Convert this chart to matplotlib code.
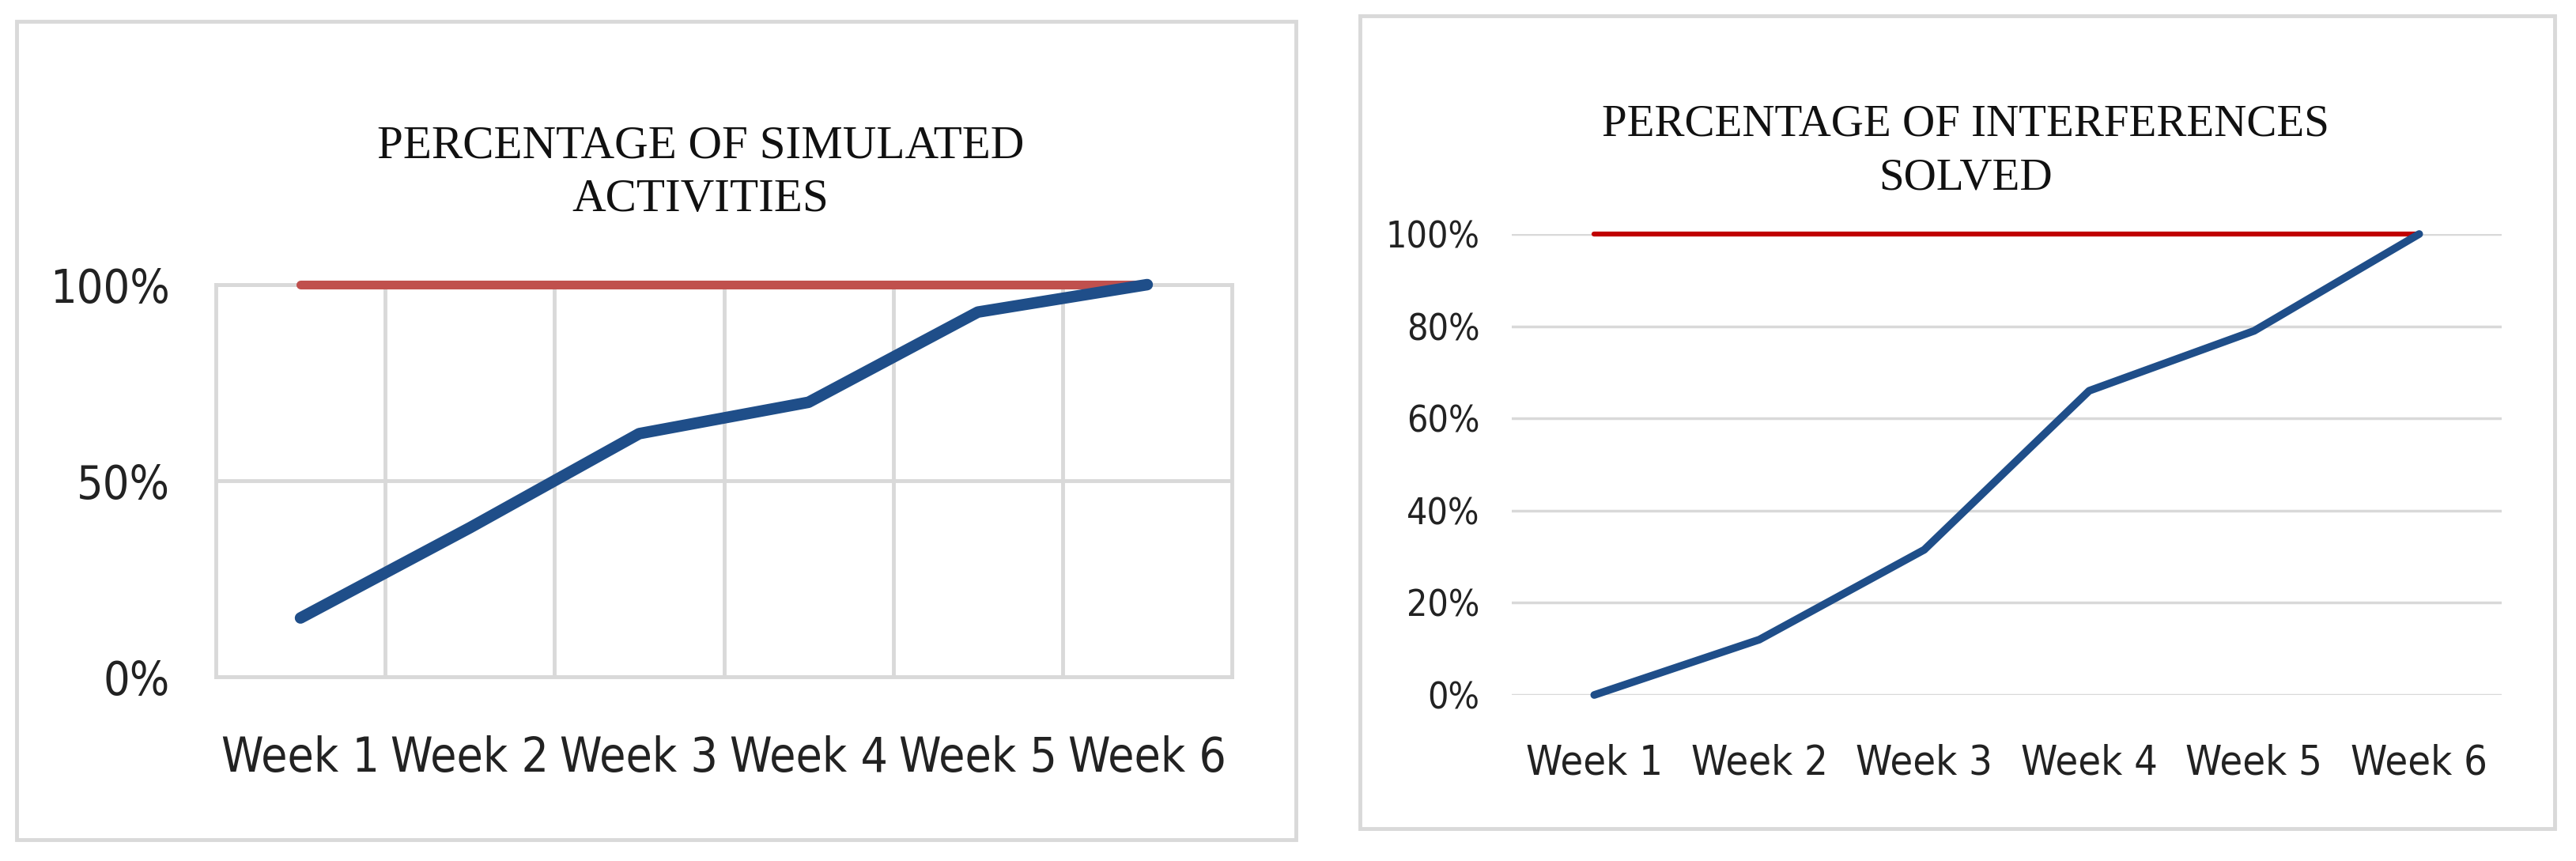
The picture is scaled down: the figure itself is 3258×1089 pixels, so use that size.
import matplotlib
matplotlib.use("Agg")
import matplotlib.pyplot as plt
from matplotlib import font_manager
from matplotlib.font_manager import FontProperties
from matplotlib.patches import Rectangle
from matplotlib.textpath import TextPath
from matplotlib.ticker import FixedLocator

weeks = ["Week 1", "Week 2", "Week 3", "Week 4", "Week 5", "Week 6"]

# left chart: simulated activities (share of total)
simulated = [0.15, 0.38, 0.62, 0.70, 0.93, 1.00]
simulated_goal = [1.0, 1.0, 1.0, 1.0, 1.0, 1.0]
left_yticks = [0.0, 0.5, 1.0]
left_ylabels = ["0%", "50%", "100%"]

# right chart: interferences solved
solved = [0.00, 0.12, 0.315, 0.66, 0.79, 1.00]
solved_goal = [1.0, 1.0, 1.0, 1.0, 1.0, 1.0]
right_yticks = [0.0, 0.2, 0.4, 0.6, 0.8, 1.0]
right_ylabels = ["0%", "20%", "40%", "60%", "80%", "100%"]

BLUE = "#1F4E89"
GRID = "#D9D9D9"
TEXT = "#222222"


def pick_tick_font():
    # a narrow sans if there is one, Calibri-like otherwise
    for fam, stretch in [("Liberation Sans Narrow", "normal"), ("DejaVu Sans", "condensed"),
                         ("Roboto Condensed", "normal"), ("Roboto", "normal")]:
        prop = FontProperties(family=fam, stretch=stretch)
        try:
            path = font_manager.findfont(prop, fallback_to_default=False)
        except Exception:
            continue
        if fam == "DejaVu Sans" and "Condensed" not in path:
            continue
        return prop
    return FontProperties(family="Lato")


def fit_size(text, prop, target_px):
    # font size (pt) that makes text about target_px wide at dpi 100
    w = TextPath((0, 0), text, size=100, prop=prop).get_extents().width
    return 72 * target_px / w


tick_prop = pick_tick_font()
title_font = "Liberation Serif"

W, H = 3258, 1089
fig = plt.figure(figsize=(W / 100, H / 100), dpi=100)


def px_box(x0, y0, x1, y1):
    # pixel box (top-left origin) -> figure fraction [left, bottom, width, height]
    return [x0 / W, 1 - y1 / H, (x1 - x0) / W, (y1 - y0) / H]


def set_tick_font(labels, size):
    for t in labels:
        t.set_fontproperties(tick_prop)
        t.set_fontsize(size)
        t.set_color(TEXT)


# outer chart borders
for x0, y0, x1, y1 in [(21, 27, 1639, 1062), (1720, 20, 3231, 1048)]:
    l, b, w, h = px_box(x0, y0, x1, y1)
    fig.patches.append(Rectangle((l, b), w, h, transform=fig.transFigure,
                                 fill=False, edgecolor=GRID, linewidth=3.5))

x = list(range(len(weeks)))

# ---- left chart
ax1 = fig.add_axes(px_box(273, 360, 1558, 856))
ax1.plot(x, simulated_goal, color="#C0504D", lw=8, solid_capstyle="round", clip_on=False, zorder=3)
ax1.plot(x, simulated, color=BLUE, lw=10.5, solid_capstyle="round", clip_on=False, zorder=4)
ax1.set_xlim(-0.5, 5.5)
ax1.set_ylim(0, 1)
ax1.set_xticks(x)
ax1.set_xticklabels(weeks)
ax1.set_yticks(left_yticks)
ax1.set_yticklabels(left_ylabels)
set_tick_font(ax1.get_xticklabels(), fit_size("Week 1", tick_prop, 193))
set_tick_font(ax1.get_yticklabels(), fit_size("100%", tick_prop, 143))
ax1.xaxis.set_minor_locator(FixedLocator([0.5, 1.5, 2.5, 3.5, 4.5]))
ax1.grid(which="minor", axis="x", color=GRID, lw=3.5)
ax1.grid(which="major", axis="y", color=GRID, lw=3.5)
ax1.tick_params(which="both", length=0)
ax1.tick_params(axis="x", pad=53)
ax1.tick_params(axis="y", pad=42)
for s in ax1.spines.values():
    s.set_color(GRID)
    s.set_linewidth(3.5)

fig.text(886 / W, 1 - 199 / H, "PERCENTAGE OF SIMULATED", ha="center", va="baseline",
         fontfamily=title_font, fontsize=42.5, color="#111111")
fig.text(886 / W, 1 - 267 / H, "ACTIVITIES", ha="center", va="baseline",
         fontfamily=title_font, fontsize=42.5, color="#111111")

# ---- right chart
ax2 = fig.add_axes(px_box(1912, 296, 3164, 879))
ax2.plot(x, solved_goal, color="#C00000", lw=4.5, solid_capstyle="round", clip_on=False, zorder=3)
ax2.plot(x, solved, color=BLUE, lw=7, solid_capstyle="round", clip_on=False, zorder=4)
ax2.set_xlim(-0.5, 5.5)
ax2.set_ylim(0, 1)
ax2.set_xticks(x)
ax2.set_xticklabels(weeks)
ax2.set_yticks(right_yticks)
ax2.set_yticklabels(right_ylabels)
set_tick_font(ax2.get_xticklabels(), fit_size("Week 1", tick_prop, 167))
set_tick_font(ax2.get_yticklabels(), fit_size("100%", tick_prop, 112))
ax2.grid(axis="y", color=GRID, lw=2.5)
ax2.tick_params(length=0)
ax2.tick_params(axis="x", pad=44)
ax2.tick_params(axis="y", pad=29)
for s in ax2.spines.values():
    s.set_visible(False)

fig.text(2486 / W, 1 - 172 / H, "PERCENTAGE OF INTERFERENCES", ha="center", va="baseline",
         fontfamily=title_font, fontsize=41, color="#111111")
fig.text(2486 / W, 1 - 239 / H, "SOLVED", ha="center", va="baseline",
         fontfamily=title_font, fontsize=41, color="#111111")

fig.savefig("out.png", dpi=100, facecolor="white")
